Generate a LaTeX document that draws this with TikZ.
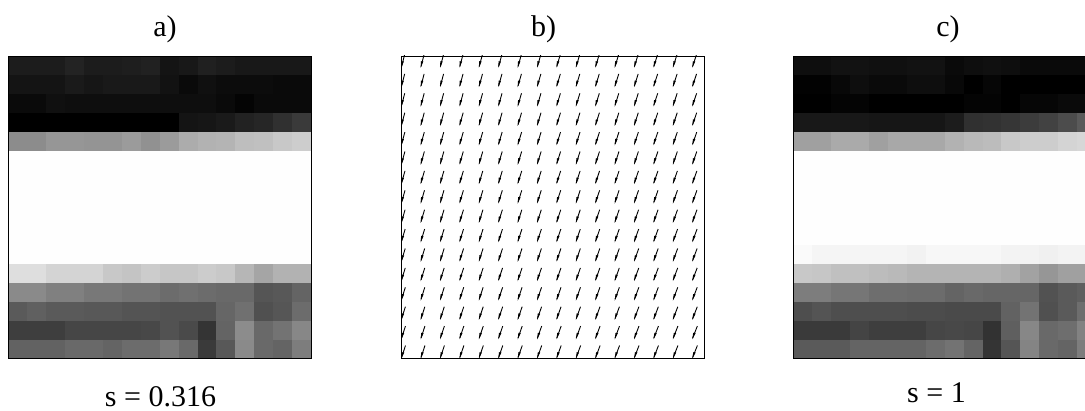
\documentclass[tikz,border=0pt]{standalone}
\usepackage{fontspec}
\setmainfont{Liberation Serif}
\newcommand{\cellrow}[3]{% #1 panel left, #2 row, #3 values
  \foreach \v [count=\c from 0] in {#3}{
    \pgfmathsetmacro{\gv}{\v/255*100}
    \fill[black!\fpeval{100-\gv}!white] ({#1+\c*18.9},{#2*18.9}) rectangle ({#1+(\c+1)*18.9+0.3},{(#2+1)*18.9+0.3});
  }}
\tikzset{lbl/.style={font=\fontsize{30}{34}\selectfont,inner sep=0pt,anchor=base},
  frameline/.style={draw=black,line width=0.9pt}}
\begin{document}
\begin{tikzpicture}[x=1pt,y=-1pt,line cap=butt]
\useasboundingbox (0,0) rectangle (1085,410);
\begin{scope}[shift={(0,56)}]
\cellrow{8.5}{0}{28,28,28,35,28,28,30,33,20,24,32,28,24,24,24,24}
\cellrow{8.5}{1}{20,20,20,26,22,25,25,25,18,10,16,12,12,12,10,10}
\cellrow{8.5}{2}{10,10,16,14,14,14,14,14,14,14,14,10,4,10,10,10}
\cellrow{8.5}{3}{0,0,0,0,0,0,0,0,0,20,22,26,34,38,48,58}
\cellrow{8.5}{4}{140,140,150,150,148,148,155,145,155,172,178,180,190,192,200,205}
\cellrow{8.5}{5}{254,254,254,254,254,254,254,254,254,254,254,254,254,254,254,254}
\cellrow{8.5}{6}{254,254,254,254,254,254,254,254,254,254,254,254,254,254,254,254}
\cellrow{8.5}{7}{254,254,254,254,254,254,254,254,254,254,254,254,254,254,254,254}
\cellrow{8.5}{8}{254,254,254,254,254,254,254,254,254,254,254,254,254,254,254,254}
\cellrow{8.5}{9}{254,254,254,254,254,254,254,254,254,254,254,254,254,254,254,254}
\cellrow{8.5}{10}{254,254,254,254,254,254,254,254,254,254,254,254,254,254,254,254}
\cellrow{8.5}{11}{222,222,212,212,212,200,196,204,198,198,204,200,182,165,178,178}
\cellrow{8.5}{12}{138,138,128,128,120,120,115,115,108,112,108,105,105,85,88,100}
\cellrow{8.5}{13}{90,96,90,90,88,88,84,84,82,82,82,102,112,80,86,108}
\cellrow{8.5}{14}{62,62,62,70,70,70,70,72,82,74,52,100,140,105,115,135}
\cellrow{8.5}{15}{98,98,98,105,105,100,108,108,120,105,58,88,138,105,100,125}
\end{scope}
\draw[frameline] (8.5,56) rectangle (311,358);
\begin{scope}
\clip (780,0) rectangle (1085,410);
\begin{scope}[shift={(0,56)}]
\cellrow{793.5}{0}{14,14,18,18,16,16,18,18,10,14,16,14,10,10,10,10}
\cellrow{793.5}{1}{2,2,8,14,10,10,14,14,8,0,6,0,0,0,0,0}
\cellrow{793.5}{2}{0,0,4,4,0,0,0,0,0,4,4,0,6,6,10,10}
\cellrow{793.5}{3}{24,24,24,24,22,22,22,22,28,48,50,54,60,66,76,90}
\cellrow{793.5}{4}{160,160,170,170,160,168,168,168,178,185,188,200,205,205,212,215}
\cellrow{793.5}{5}{254,254,254,254,254,254,254,254,254,254,254,254,254,254,254,254}
\cellrow{793.5}{6}{254,254,254,254,254,254,254,254,254,254,254,254,254,254,254,254}
\cellrow{793.5}{7}{254,254,254,254,254,254,254,254,254,254,254,254,254,254,254,254}
\cellrow{793.5}{8}{254,254,254,254,254,254,254,254,254,254,254,254,254,254,254,254}
\cellrow{793.5}{9}{254,254,254,254,254,254,254,254,254,254,254,254,254,254,254,254}
\cellrow{793.5}{10}{250,245,245,245,245,245,242,247,247,247,247,243,243,240,243,243}
\cellrow{793.5}{11}{200,198,192,192,188,185,180,180,180,180,180,175,162,150,160,160}
\cellrow{793.5}{12}{125,125,118,118,110,110,108,108,100,105,102,102,102,82,90,95}
\cellrow{793.5}{13}{78,84,78,78,78,78,76,76,74,74,74,98,115,80,90,110}
\cellrow{793.5}{14}{58,58,58,68,62,62,62,70,72,70,50,95,135,105,110,130}
\cellrow{793.5}{15}{90,90,90,100,100,100,100,108,115,100,52,85,132,105,100,125}
\end{scope}
\draw[frameline] (793.5,56) -- (793.5,358) -- (1090,358);
\draw[frameline] (793.5,56) -- (1090,56);
\end{scope}
% quiver
\begin{scope}
\clip (401.5,55.5) rectangle (704.5,358.5);
\foreach \r in {0,...,15}{
  \foreach \k in {0,...,15}{
    \pgfmathsetmacro{\hx}{401.6+19.4*\k}
    \pgfmathsetmacro{\hy}{66.5+19.4*\r}
    \pgfmathsetmacro{\dx}{3.0+0.06*\k+0.06*\r}
    \draw[line width=0.9pt] (\hx,\hy) -- ++(\dx,-12);
    \fill (\hx,\hy) ++(-0.3,1.2) -- ++({0.45*\dx+1.2},-6.2) -- ++(-2.4,-0.3) -- cycle;
  }
}
\end{scope}
\draw[frameline] (401.5,56) rectangle (704,358);
\node[lbl] (la) at (165,36) {a)};
\node[lbl] (lb) at (543.5,36) {b)};
\node[lbl] (lc) at (948,36) {c)};
\node[lbl] (sa) at (160.5,406.5) {s = 0.316};
\node[lbl] (sc) at (936.5,402) {s = 1};
\end{tikzpicture}
\end{document}
